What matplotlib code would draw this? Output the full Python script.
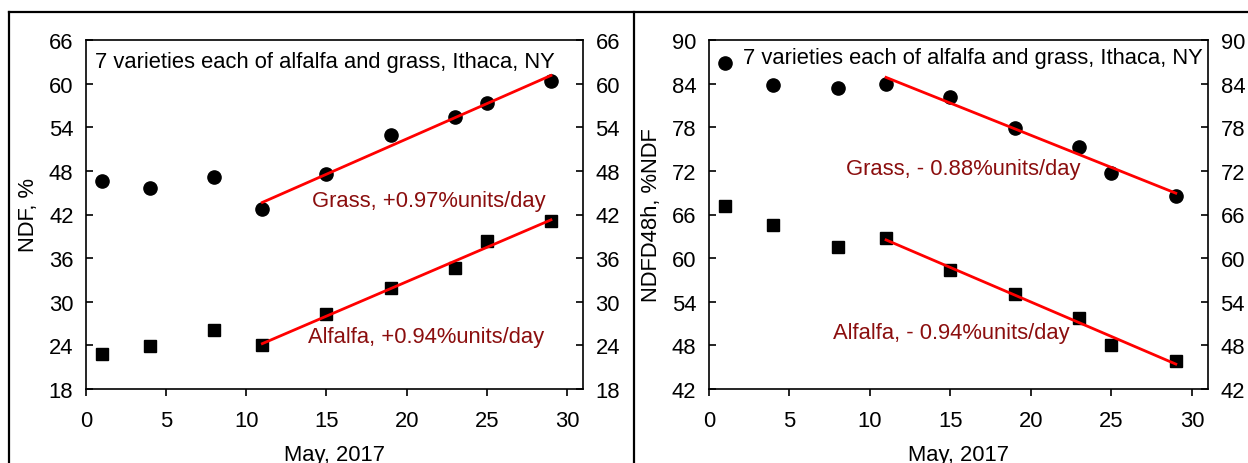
import numpy as np
import matplotlib
matplotlib.use("Agg")
import matplotlib.pyplot as plt
from matplotlib.lines import Line2D

plt.rcParams['font.family'] = ['Liberation Sans', 'DejaVu Sans']

# sampling days, May 2017
days = [1, 4, 8, 11, 15, 19, 23, 25, 29]

# NDF, %
ndf_grass = [46.6, 45.6, 47.1, 42.7, 47.6, 53.0, 55.4, 57.3, 60.3]
ndf_alfalfa = [22.8, 23.9, 26.1, 24.1, 28.3, 31.9, 34.6, 38.4, 41.1]

# NDFD48h, %NDF
ndfd_grass = [86.9, 83.8, 83.4, 84.0, 82.1, 77.9, 75.3, 71.7, 68.6]
ndfd_alfalfa = [67.2, 64.6, 61.5, 62.7, 58.4, 55.1, 51.7, 48.1, 45.9]

fit_from = 11  # regression uses days >= 11

title = "7 varieties each of alfalfa and grass, Ithaca, NY"
dark_red = '#8b0e0e'
fs = 15.8

fig = plt.figure(figsize=(12.48, 4.64), dpi=100)
W, H = 1248, 464


def axes_px(x0, x1, y0, y1):
    return fig.add_axes([x0 / W, 1 - y1 / H, (x1 - x0) / W, (y1 - y0) / H])


def style(ax, ylim, yticks, ylabel):
    ax.set_xlim(0, 31)
    ax.set_ylim(*ylim)
    ax.set_xticks(range(0, 31, 5))
    ax.set_yticks(yticks)
    for s in ax.spines.values():
        s.set_linewidth(1.2)
    ax.tick_params(axis='x', direction='out', length=5, width=1.2, pad=10,
                   labelsize=fs)
    ax.tick_params(axis='y', direction='in', length=5, width=1.2, pad=9,
                   labelsize=fs, right=True, labelright=True)
    ax.set_xlabel('May, 2017', fontsize=fs)
    ax.xaxis.set_label_coords(0.5, -0.158)
    ax.set_ylabel(ylabel, fontsize=fs, labelpad=7)


def panel(ax, grass, alfalfa):
    d = np.array(days)
    ax.plot(d, grass, 'o', color='black', ms=9.5, zorder=3)
    ax.plot(d, alfalfa, 's', color='black', ms=8.5, zorder=3)
    m = d >= fit_from
    for ys in (grass, alfalfa):
        ys = np.array(ys)
        k, b = np.polyfit(d[m], ys[m], 1)
        xx = np.array([d[m].min(), d[m].max()])
        ax.plot(xx, k * xx + b, color='red', lw=2.0, zorder=4)


# left panel: NDF
ax1 = axes_px(86, 583, 41, 390)
style(ax1, (18, 66), range(18, 67, 6), 'NDF, %')
panel(ax1, ndf_grass, ndf_alfalfa)
ax1.text(0.55, 62.25, title, fontsize=fs)
ax1.text(28.65, 43.2, 'Grass, +0.97%units/day', color=dark_red,
         fontsize=fs, ha='right')
ax1.text(28.6, 24.5, 'Alfalfa, +0.94%units/day', color=dark_red,
         fontsize=fs, ha='right')

# right panel: NDFD48h
ax2 = axes_px(709, 1208, 41, 390)
style(ax2, (42, 90), range(42, 91, 6), 'NDFD48h, %NDF')
panel(ax2, ndfd_grass, ndfd_alfalfa)
ax2.text(2.1, 86.9, title, fontsize=fs)
ax2.text(8.5, 71.6, 'Grass, - 0.88%units/day', color=dark_red, fontsize=fs)
ax2.text(7.7, 49.0, 'Alfalfa, - 0.94%units/day', color=dark_red, fontsize=fs)

# outer frames of the two panels
for xs, ys in [([9 / W, 1], [1 - 13 / H, 1 - 13 / H]),
               ([9 / W, 9 / W], [0, 1 - 13 / H]),
               ([633.5 / W, 633.5 / W], [0, 1 - 13 / H])]:
    fig.add_artist(Line2D(xs, ys, color='black', lw=1.6))

fig.savefig('out.png', dpi=100)
